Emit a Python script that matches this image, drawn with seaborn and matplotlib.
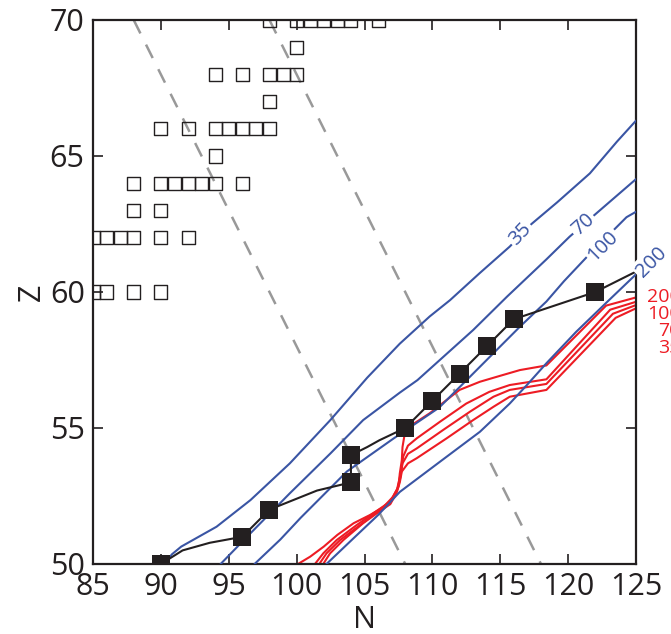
import numpy as np
import pandas as pd
import seaborn as sns
import matplotlib
matplotlib.use("Agg")
import matplotlib.pyplot as plt

# known nuclei (open squares)
known_N = [98, 100, 101, 102, 103, 104, 106,
           100,
           94, 96, 98, 99, 100,
           98,
           90, 92, 94, 95, 96, 97, 98,
           94,
           88, 90, 91, 92, 93, 94, 96,
           88, 90,
           85, 86, 87, 88, 90, 92,
           85, 86, 88, 90]
known_Z = [70, 70, 70, 70, 70, 70, 70,
           69,
           68, 68, 68, 68, 68,
           67,
           66, 66, 66, 66, 66, 66, 66,
           65,
           64, 64, 64, 64, 64, 64, 64,
           63, 63,
           62, 62, 62, 62, 62, 62,
           60, 60, 60, 60]

# filled squares and the black line through them
meas_N = [90, 96, 98, 104, 104, 108, 110, 112, 114, 116, 122]
meas_Z = [50, 51, 52, 53, 54, 55, 56, 57, 58, 59, 60]
path_N = [90, 91.6, 93.6, 96, 98, 101.5, 104, 104, 105.2, 106.1, 108, 110, 112, 114, 116, 122, 126]
path_Z = [50, 50.5, 50.78, 51, 52, 52.7, 53, 54, 54.3, 54.55, 55, 56, 57, 58, 59, 60, 61]

# isobars (grey dashed)
iso1_N = [88, 108]
iso1_Z = [70, 50]
iso2_N = [98, 118]
iso2_Z = [70, 50]

# blue contours
blue35_N = [90.3, 90.8, 91.5, 94.1, 96.6, 99.5, 102.5, 105.2, 107.6, 109.8, 111.3, 113.5, 115.7, 117.3, 119.2, 121.6, 123.6, 125.0]
blue35_Z = [50.0, 50.35, 50.64, 51.37, 52.35, 53.7, 55.3, 56.85, 58.1, 59.1, 59.7, 60.7, 61.67, 62.5, 63.3, 64.36, 65.53, 66.3]
blue70_N = [94.4, 96.6, 99.5, 102.5, 104.9, 107.6, 108.9, 113.0, 115.5, 118.4, 120.1, 122.1, 125.0]
blue70_Z = [50.0, 51.13, 52.6, 54.07, 55.29, 56.3, 56.76, 58.6, 59.83, 61.2, 62.03, 62.9, 64.15]
blue100_N = [96.9, 98.8, 100.3, 103.7, 107.1, 110.5, 112.5, 114.5, 116.5, 118.4, 119.7, 121.4, 123.6, 124.3, 125.0]
blue100_Z = [50.0, 50.9, 51.7, 53.4, 54.6, 55.75, 56.75, 57.75, 58.75, 59.65, 60.4, 61.3, 62.4, 62.75, 62.95]
blue200_N = [102.2, 104.2, 106.0, 107.6, 110.8, 113.5, 115.7, 117.0, 118.4, 120.6, 122.8, 125.0]
blue200_Z = [50.0, 50.95, 51.8, 52.65, 53.85, 54.86, 55.9, 56.6, 57.38, 58.54, 59.6, 60.65]

# red contours
red200_N = [100.1, 101.0, 102.0, 103.0, 104.2, 105.4, 106.4, 107.1, 107.5, 107.6, 107.75, 107.8, 108.0, 108.6, 109.8, 111.05, 112.0, 113.5, 115.0, 116.45, 118.4, 122.8, 125.0]
red200_Z = [50.0, 50.27, 50.64, 51.07, 51.5, 51.8, 52.1, 52.47, 52.84, 53.33, 53.82, 54.3, 54.9, 55.15, 55.54, 56.03, 56.4, 56.7, 56.92, 57.13, 57.3, 59.5, 59.8]
red100_N = [101.35, 101.96, 102.95, 104.42, 105.65, 106.9, 107.4, 107.7, 107.85, 108.2, 108.85, 110.56, 112.5, 114.2, 115.7, 118.4, 123.1, 125.0]
red100_Z = [50.0, 50.39, 50.88, 51.43, 51.86, 52.3, 52.75, 53.4, 53.95, 54.35, 54.62, 55.23, 55.9, 56.33, 56.58, 56.79, 59.35, 59.64]
red70_N = [101.67, 102.2, 103.2, 104.67, 105.65, 106.9, 107.4, 107.65, 107.8, 108.2, 108.85, 110.8, 112.77, 114.5, 115.7, 118.4, 123.3, 125.0]
red70_Z = [50.0, 50.39, 50.88, 51.43, 51.8, 52.25, 52.7, 53.2, 53.7, 54.05, 54.25, 54.93, 55.6, 56.15, 56.4, 56.62, 59.2, 59.52]
red35_N = [101.96, 102.46, 103.44, 104.9, 105.9, 106.9, 107.35, 107.6, 107.75, 108.2, 108.85, 111.05, 113.0, 114.5, 115.7, 118.4, 123.5, 125.0]
red35_Z = [50.0, 50.39, 50.88, 51.5, 51.86, 52.2, 52.6, 53.0, 53.4, 53.7, 53.89, 54.62, 55.29, 55.78, 56.15, 56.4, 59.05, 59.4]

# labels
blue_labels = ["35", "70", "100", "200"]
blue_lab_N = [116.5, 121.15, 122.55, 126.15]
blue_lab_Z = [62.13, 62.46, 61.7, 61.1]
blue_lab_rot = [47, 42, 45, 45]
red_labels = ["200", "100", "70", "35"]
red_lab_Z = [59.8, 59.18, 58.56, 57.94]

BLUE = "#3a55a4"
RED = "#ed1c24"
BLACK = "#231f20"
GREY = "#999999"

sns.set_style("ticks")
plt.rcParams['font.family'] = ['Open Sans', 'DejaVu Sans']

fig = plt.figure(figsize=(6.71, 6.34), dpi=100)
ax = fig.add_axes([93/671, 1-564/634, (636-93)/671, (564-20)/634])

for n, z in [(iso1_N, iso1_Z), (iso2_N, iso2_Z)]:
    ax.plot(n, z, color=GREY, lw=1.8, dashes=(6, 5), zorder=1)

for n, z in [(red200_N, red200_Z), (red100_N, red100_Z), (red70_N, red70_Z), (red35_N, red35_Z)]:
    sns.lineplot(x=n, y=z, sort=False, estimator=None, color=RED, lw=1.5, ax=ax, zorder=2)

for n, z in [(blue35_N, blue35_Z), (blue70_N, blue70_Z), (blue100_N, blue100_Z), (blue200_N, blue200_Z)]:
    sns.lineplot(x=n, y=z, sort=False, estimator=None, color=BLUE, lw=1.5, ax=ax, zorder=3)

sns.lineplot(x=path_N, y=path_Z, sort=False, estimator=None, color=BLACK, lw=1.5, ax=ax, zorder=4)

sns.scatterplot(x=known_N, y=known_Z, marker="s", s=88, facecolor="none",
                edgecolor=BLACK, linewidth=1.0, ax=ax, zorder=5)
sns.scatterplot(x=meas_N, y=meas_Z, marker="s", s=150, color=BLACK,
                edgecolor=BLACK, linewidth=0, ax=ax, zorder=6)

for txt, n, z, r in zip(blue_labels, blue_lab_N, blue_lab_Z, blue_lab_rot):
    ax.text(n, z, txt, color=BLUE, fontsize=14.5, rotation=r, ha="center", va="center",
            rotation_mode="anchor", zorder=7,
            bbox=dict(boxstyle="square,pad=0.1", fc="white", ec="none"))

# red labels sit at the right edge, partly cut by the figure border as in the original
for txt, z in zip(red_labels, red_lab_Z):
    ax.text(128.3, z, txt, color=RED, fontsize=14, ha="right", va="center", zorder=7)

ax.set_xlim(85, 125)
ax.set_ylim(50, 70)
ax.set_xticks([85, 90, 95, 100, 105, 110, 115, 120, 125])
ax.set_yticks([50, 55, 60, 65, 70])
ax.tick_params(direction="in", top=True, right=True, length=7, width=1.2,
               labelsize=22, colors=BLACK, pad=6)
for sp in ax.spines.values():
    sp.set_linewidth(1.6)
    sp.set_color(BLACK)
ax.set_xlabel("N", fontsize=22, color=BLACK, labelpad=2)
ax.set_ylabel("Z", fontsize=22, color=BLACK, labelpad=2)

fig.savefig("out.png", dpi=100)
